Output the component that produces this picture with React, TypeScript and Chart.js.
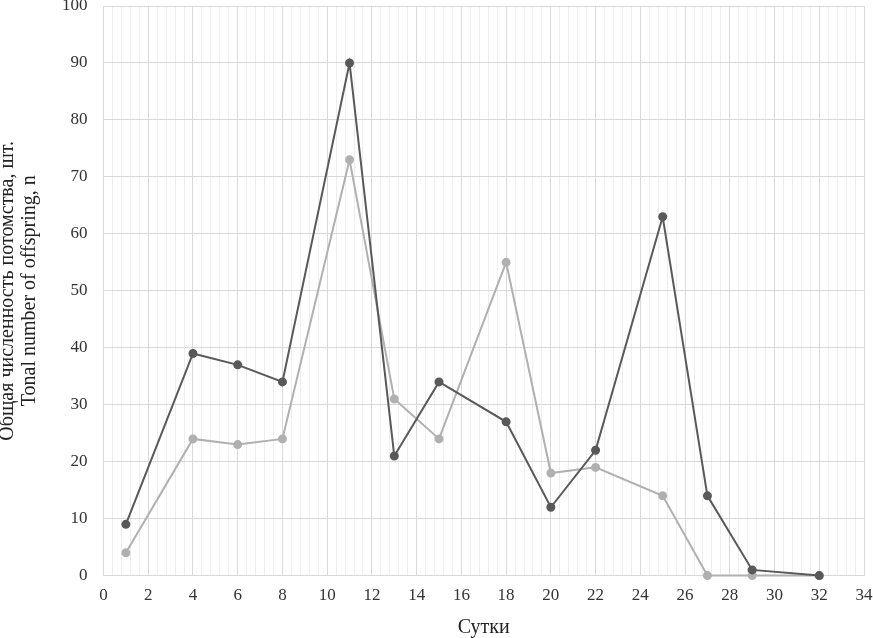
import React, { useEffect, useRef } from "react";
import { Chart, registerables } from "chart.js";

Chart.register(...registerables);

const days = [1, 4, 6, 8, 11, 13, 15, 18, 20, 22, 25, 27, 29, 32];
const seriesDark = [9, 39, 37, 34, 90, 21, 34, 27, 12, 22, 63, 14, 1, 0];
const seriesLight = [4, 24, 23, 24, 73, 31, 24, 55, 18, 19, 14, 0, 0, 0];

const xTitle = "Сутки";
const yTitle = ["Общая численность потомства, шт.", "Tonal number of offspring, n"];

const FONT = "'Liberation Serif', 'Times New Roman', serif";

const noScalePadding = (scale: any) => {
  scale.paddingTop = 0;
  scale.paddingBottom = 0;
  scale.paddingLeft = 0;
  scale.paddingRight = 0;
};

export default function App() {
  const ref = useRef<HTMLCanvasElement | null>(null);

  useEffect(() => {
    document.body.style.margin = "0";
    if (!ref.current) return;
    const chart = new Chart(ref.current, {
      type: "line",
      data: {
        datasets: [
          {
            label: "A",
            data: days.map((d, i) => ({ x: d, y: seriesDark[i] })),
            borderColor: "#595959",
            backgroundColor: "#595959",
            pointBackgroundColor: "#595959",
            pointBorderColor: "#595959",
            pointRadius: 3.5,
            borderWidth: 2,
            tension: 0,
            clip: false,
          },
          {
            label: "B",
            data: days.map((d, i) => ({ x: d, y: seriesLight[i] })),
            borderColor: "#b0b0b0",
            backgroundColor: "#b0b0b0",
            pointBackgroundColor: "#b0b0b0",
            pointBorderColor: "#b0b0b0",
            pointRadius: 3.5,
            borderWidth: 2,
            tension: 0,
            clip: false,
          },
        ],
      },
      options: {
        animation: false,
        responsive: true,
        maintainAspectRatio: false,
        layout: { autoPadding: false, padding: { left: -3, right: 9, top: 6, bottom: 0 } },
        plugins: { legend: { display: false }, tooltip: { enabled: false } },
        scales: {
          x2: {
            type: "linear",
            position: "top",
            min: 0,
            max: 34,
            afterBuildTicks: (scale: any) => {
              const t = [];
              for (let i = 0; i <= 85; i++) {
                if (i % 5 !== 0) t.push({ value: i * 0.4 });
              }
              scale.ticks = t;
            },
            afterFit: noScalePadding,
            ticks: { display: false },
            grid: { color: "#eeeeee", drawTicks: false, lineWidth: 1 },
            border: { display: false },
          },
          x: {
            type: "linear",
            min: 0,
            max: 34,
            afterFit: noScalePadding,
            ticks: {
              stepSize: 2,
              color: "#333333",
              font: { family: FONT, size: 17, lineHeight: 1.2 },
              padding: 10,
            },
            grid: { color: "#d9d9d9", drawTicks: false },
            border: { color: "#d9d9d9" },
            title: {
              display: true,
              text: xTitle,
              color: "#222222",
              font: { family: FONT, size: 20, lineHeight: 1.0 },
              padding: { top: 2, bottom: 0 },
            },
          },
          y: {
            min: 0,
            max: 100,
            afterFit: noScalePadding,
            ticks: {
              stepSize: 10,
              color: "#333333",
              font: { family: FONT, size: 17, lineHeight: 1.2 },
              padding: 16,
            },
            grid: { color: "#d9d9d9", drawTicks: false },
            border: { display: false },
            title: {
              display: true,
              text: yTitle,
              color: "#222222",
              font: { family: FONT, size: 20, lineHeight: 1.1 },
              padding: { top: 0, bottom: 5 },
            },
          },
        },
      },
    });
    return () => chart.destroy();
  }, []);

  return (
    <div style={{ width: 873, height: 638, position: "relative" }}>
      <canvas ref={ref} />
    </div>
  );
}
